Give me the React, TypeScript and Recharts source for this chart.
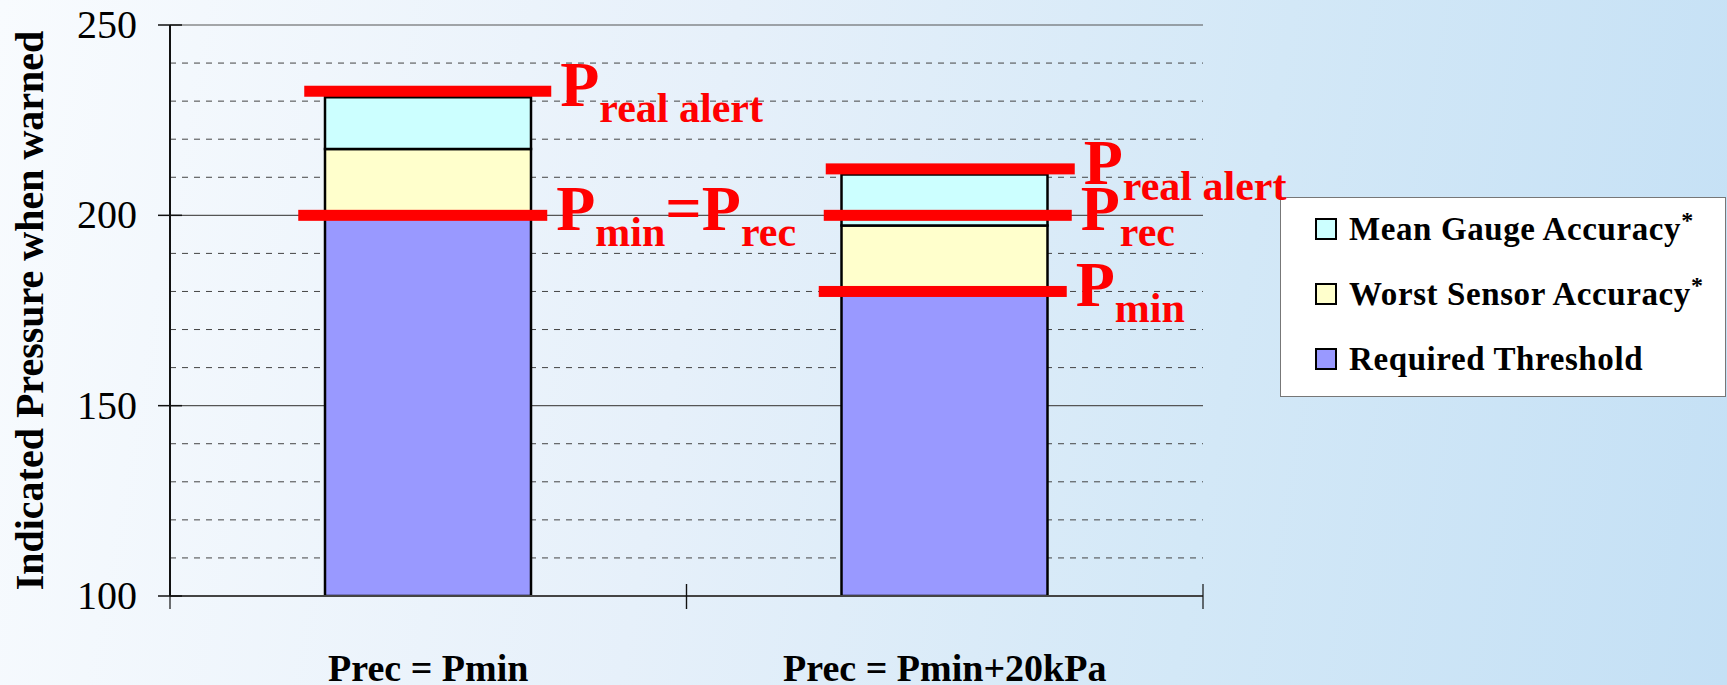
import React from 'react';
import {
  ComposedChart,
  Bar,
  Scatter,
  XAxis,
  YAxis,
  CartesianGrid,
  Legend,
  Label,
} from 'recharts';

// ---------- data ----------
const CATEGORIES = ['Prec = Pmin', 'Prec = Pmin+20kPa'];
const REQUIRED_THRESHOLD = [200, 180];
const WORST_SENSOR = [17.4, 17.3];
const MEAN_GAUGE = [13.6, 13.4];
const REAL_ALERT_LINE = [232.6, 212.2];
const REC_LINE = [200, 200];
const MIN_LINE: (number | null)[] = [null, 180];
const Y_TICKS = [100, 150, 200, 250];
const Y_MINOR = [110, 120, 130, 140, 160, 170, 180, 190, 210, 220, 230, 240];
const SERIES_NAMES = ['Required Threshold', 'Worst Sensor Accuracy*', 'Mean Gauge Accuracy*'];
const Y_TITLE = 'Indicated Pressure when warned';

// label pieces: [text, isSubscript]
type Piece = [string, boolean];
const ALERT_LABELS: Piece[][] = [
  [['P', false], ['real alert', true]],
  [['P', false], ['real alert', true]],
];
const REC_LABELS: Piece[][] = [
  [['P', false], ['min', true], ['=P', false], ['rec', true]],
  [['P', false], ['rec', true]],
];
const MIN_LABELS: (Piece[] | null)[] = [null, [['P', false], ['min', true]]];

const data = CATEGORIES.map((cat, i) => ({
  cat,
  required: REQUIRED_THRESHOLD[i],
  worst: WORST_SENSOR[i],
  mean: MEAN_GAUGE[i],
  alert: REAL_ALERT_LINE[i],
  rec: REC_LINE[i],
  min: MIN_LINE[i],
}));

// ---------- styles ----------
const W = 1727;
const H = 685;
const X_AXIS_H = 30;
const MARGIN = { top: 25, right: 524, bottom: 89 - X_AXIS_H, left: 0 };
const Y_AXIS_W = 170;
const PLOT_W = W - MARGIN.right - Y_AXIS_W;
const SERIF = '"Liberation Serif", "Times New Roman", serif';
const RED = '#ff0000';
const COLORS = { required: '#9999ff', worst: '#ffffcc', mean: '#ccffff' };

// extents of the red markers relative to the bar centre (px)
const LINE_SPAN: Record<string, [number, number][]> = {
  alert: [[-124, 123], [-119, 130]],
  rec: [[-130, 119], [-121, 127]],
  min: [[0, 0], [-126, 122]],
};

const makeMarker = (key: string, labels: (Piece[] | null)[]) => (props: any) => {
  const { cx, cy, payload } = props;
  if (!payload || payload[key] == null || !isFinite(cy) || !isFinite(cx)) return <g />;
  const idx = CATEGORIES.indexOf(payload.cat);
  const span = LINE_SPAN[key][idx];
  const x1 = cx + span[0];
  const x2 = cx + span[1];
  const pieces = labels[idx] || [];
  let sub = false;
  return (
    <g>
      <rect x={x1} y={cy - 5.5} width={x2 - x1} height={11} fill={RED} />
      <text x={x2 + 9} y={cy + 15} fill={RED} fontFamily={SERIF} fontWeight="bold" fontSize={64}>
        {pieces.map(([t, isSub], k) => {
          let dy = 0;
          if (isSub && !sub) dy = 16;
          if (!isSub && sub) dy = -16;
          sub = isSub;
          return (
            <tspan key={k} dy={dy} fontSize={isSub ? 42 : 64}>
              {t}
            </tspan>
          );
        })}
      </text>
    </g>
  );
};

const YTick = (props: any) => {
  const { x, y, payload } = props;
  const axisX = x + 33;
  return (
    <g>
      <line x1={axisX - 12} x2={axisX + 12} y1={y} y2={y} stroke="#111" strokeWidth={1.5} />
      <text x={x} y={y} dy={13} textAnchor="end" fontFamily={SERIF} fontSize={40} fill="#000">
        {payload.value}
      </text>
    </g>
  );
};

const XTick = (props: any) => {
  const { x, y, payload } = props;
  const half = PLOT_W / CATEGORIES.length / 2;
  return (
    <g>
      <line x1={x - half} x2={x - half} y1={y - 12} y2={y + 13} stroke="#111" strokeWidth={1.2} />
      <line x1={x + half} x2={x + half} y1={y - 12} y2={y + 13} stroke="#111" strokeWidth={1.2} />
      <text x={x} y={y + 85} textAnchor="middle" fontFamily={SERIF} fontWeight="bold" fontSize={38} fill="#000">
        {payload.value}
      </text>
    </g>
  );
};

const LegendContent = (props: any) => {
  const byName: Record<string, any> = {};
  (props.payload || []).forEach((p: any) => {
    byName[String(p.value)] = p;
  });
  const items = [...SERIES_NAMES].reverse().map((n) => byName[n]).filter(Boolean);
  return (
    <div
      style={{
        position: 'relative',
        width: 446,
        height: 200,
        background: '#ffffff',
        border: '1.5px solid #777',
        boxSizing: 'border-box',
      }}
    >
      {items.map((it: any, i: number) => {
        const name: string = String(it.value);
        const star = name.endsWith('*');
        const base = star ? name.slice(0, -1) : name;
        return (
          <div
            key={i}
            style={{
              position: 'absolute',
              left: 34,
              top: 31 + i * 65 - 20,
              height: 40,
              display: 'flex',
              alignItems: 'center',
              whiteSpace: 'nowrap',
            }}
          >
            <div
              style={{
                width: 22,
                height: 22,
                background: it.color,
                border: '2px solid #000',
                boxSizing: 'border-box',
                marginRight: 12,
              }}
            />
            <span style={{ fontFamily: SERIF, fontWeight: 'bold', fontSize: 33, color: '#000', letterSpacing: 0.6 }}>
              {base}
              {star && <span style={{ fontSize: 24, verticalAlign: 'top', position: 'relative', top: -4 }}>*</span>}
            </span>
          </div>
        );
      })}
    </div>
  );
};

export default function App() {
  return (
    <div
      style={{
        position: 'absolute',
        left: 0,
        top: 0,
        width: W,
        height: H,
        overflow: 'hidden',
        zIndex: 0,
        background: 'linear-gradient(100deg, #f8fbfe 0%, #e6f0fa 40%, #d3e8f7 70%, #c4e0f5 100%)',
      }}
    >
      <ComposedChart width={W} height={H} data={data} margin={MARGIN} barSize={206}>
        <CartesianGrid
          vertical={false}
          horizontalValues={Y_MINOR}
          stroke="#444"
          strokeDasharray="6 6"
          strokeWidth={1}
        />
        <CartesianGrid vertical={false} stroke="#555" strokeWidth={1.2} />
        <XAxis
          dataKey="cat"
          type="category"
          height={X_AXIS_H}
          tickLine={false}
          tickSize={0}
          tickMargin={0}
          axisLine={{ stroke: '#444', strokeWidth: 2 }}
          tick={<XTick />}
          interval={0}
        />
        <YAxis
          type="number"
          domain={[100, 250]}
          ticks={Y_TICKS}
          allowDataOverflow
          width={Y_AXIS_W}
          tickLine={false}
          tickSize={12}
          tickMargin={21}
          axisLine={{ stroke: '#111', strokeWidth: 2 }}
          tick={<YTick />}
        >
          <Label
            content={(p: any) => {
              const vb = p.viewBox || { y: 25, height: 571 };
              const cy = vb.y + vb.height / 2;
              return (
                <text
                  x={43}
                  y={cy}
                  transform={`rotate(-90, 43, ${cy})`}
                  textAnchor="middle"
                  fontFamily={SERIF}
                  fontWeight="bold"
                  fontSize={40}
                  fill="#000"
                >
                  {Y_TITLE}
                </text>
              );
            }}
          />
        </YAxis>
        <YAxis
          yAxisId="border"
          orientation="right"
          type="number"
          domain={[100, 250]}
          width={0}
          tick={false}
          tickLine={false}
          axisLine={{ stroke: '#888', strokeWidth: 2 }}
        />
        <Bar dataKey="required" name={SERIES_NAMES[0]} stackId="a" fill={COLORS.required} stroke="#000" strokeWidth={2.5} isAnimationActive={false} />
        <Bar dataKey="worst" name={SERIES_NAMES[1]} stackId="a" fill={COLORS.worst} stroke="#000" strokeWidth={2.5} isAnimationActive={false} />
        <Bar dataKey="mean" name={SERIES_NAMES[2]} stackId="a" fill={COLORS.mean} stroke="#000" strokeWidth={2.5} isAnimationActive={false} />
        <Scatter dataKey="alert" legendType="none" shape={makeMarker('alert', ALERT_LABELS)} isAnimationActive={false} />
        <Scatter dataKey="rec" legendType="none" shape={makeMarker('rec', REC_LABELS)} isAnimationActive={false} />
        <Scatter dataKey="min" legendType="none" shape={makeMarker('min', MIN_LABELS)} isAnimationActive={false} />
        <Legend
          layout="vertical"
          align="center"
          verticalAlign="middle"
          content={<LegendContent />}
          wrapperStyle={{ left: 1280, top: 197, width: 446, height: 200, zIndex: -1 }}
        />
      </ComposedChart>
    </div>
  );
}
